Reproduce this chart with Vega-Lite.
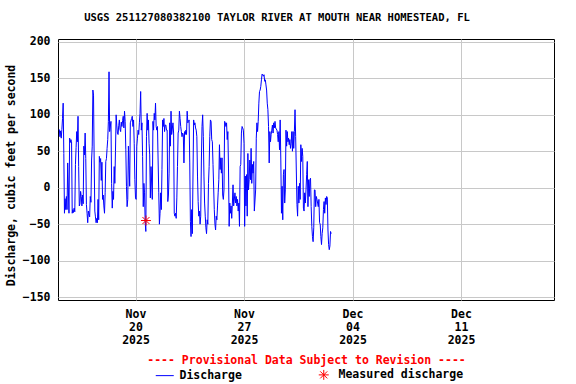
{
"$schema": "https://vega.github.io/schema/vega-lite/v6.json",
"width": 496, "height": 261,
"autosize": "none",
"padding": {"left": 58, "top": 39, "right": 22, "bottom": 84},
"background": "white",
"title": {"text": "USGS 251127080382100 TAYLOR RIVER AT MOUTH NEAR HOMESTEAD, FL", "font": "DejaVu Sans Mono", "fontSize": 10.5, "fontWeight": "bold", "anchor": "middle", "dx": -29, "offset": 12, "color": "black"},
"config": {"view": {"stroke": "black", "strokeWidth": 1}, "font": "DejaVu Sans Mono", "axis": {"labelOverlap": false}},
"encoding": {
"x": {"field": "t", "type": "temporal",
 "scale": {"domain": [{"year": 2025, "month": 11, "date": 15}, {"year": 2025, "month": 12, "date": 17}]},
 "axis": {"values": [{"year": 2025, "month": 11, "date": 20}, {"year": 2025, "month": 11, "date": 27}, {"year": 2025, "month": 12, "date": 4}, {"year": 2025, "month": 12, "date": 11}],
  "labelExpr": "[timeFormat(datum.value, '%b'), timeFormat(datum.value, '%d'), timeFormat(datum.value, '%Y')]",
  "labelLineHeight": 13, "labelFont": "DejaVu Sans Mono", "labelFontSize": 11.5, "labelFontWeight": "bold", "labelColor": "black",
  "labelPadding": 8, "ticks": false, "tickSize": 0, "domain": false, "grid": true, "gridColor": "#c8c8c8", "gridWidth": 1,
  "labelFlush": false, "labelOverlap": false,
  "title": "---- Provisional Data Subject to Revision ----", "titleColor": "#ff0000", "titleFont": "DejaVu Sans Mono", "titleFontSize": 11.5, "titleFontWeight": "bold",
  "titleY": 63, "titleBaseline": "alphabetic"}},
"y": {"field": "v", "type": "quantitative",
 "scale": {"domain": [-154, 204], "nice": false, "zero": false},
 "axis": {"values": [-150, -100, -50, 0, 50, 100, 150, 200], "labelFont": "DejaVu Sans Mono", "labelFontSize": 11.5, "labelFontWeight": "bold", "labelColor": "black",
  "labelPadding": 8, "ticks": false, "tickSize": 0, "domain": false, "grid": true, "gridColor": "#c8c8c8", "gridWidth": 1,
  "labelOverlap": false, "labelFlush": false, "labelBaseline": "middle",
  "title": "Discharge, cubic feet per second", "titleFont": "DejaVu Sans Mono", "titleFontSize": 11.5, "titleFontWeight": "bold", "titleColor": "black",
  "titleX": -47, "titleY": 136, "titleBaseline": "middle", "titleAngle": -90}}
},
"layer": [
{"data": {"values": [
{"t":"2025-11-15T02:00","v":80},{"t":"2025-11-15T03:00","v":70},{"t":"2025-11-15T04:00","v":78},{"t":"2025-11-15T05:00","v":68},{"t":"2025-11-15T06:00","v":80},{"t":"2025-11-15T07:00","v":95},{"t":"2025-11-15T08:00","v":116},{"t":"2025-11-15T09:00","v":47},{"t":"2025-11-15T10:00","v":-35},{"t":"2025-11-15T11:00","v":-15},{"t":"2025-11-15T12:00","v":-30},{"t":"2025-11-15T13:00","v":-12},{"t":"2025-11-15T14:00","v":-30},{"t":"2025-11-15T15:00","v":34},{"t":"2025-11-15T17:00","v":-35},{"t":"2025-11-15T18:00","v":68},{"t":"2025-11-15T19:00","v":62},{"t":"2025-11-15T20:00","v":66},{"t":"2025-11-15T21:00","v":63},{"t":"2025-11-15T22:00","v":-35},{"t":"2025-11-15T23:00","v":-30},
{"t":"2025-11-16T00:00","v":-34},{"t":"2025-11-16T01:00","v":-28},{"t":"2025-11-16T02:00","v":-33},{"t":"2025-11-16T03:00","v":32},{"t":"2025-11-16T04:00","v":55},{"t":"2025-11-16T05:00","v":77},{"t":"2025-11-16T06:00","v":63},{"t":"2025-11-16T07:00","v":98},{"t":"2025-11-16T08:00","v":29},{"t":"2025-11-16T09:00","v":-25},{"t":"2025-11-16T10:00","v":-22},{"t":"2025-11-16T11:00","v":-5},{"t":"2025-11-16T12:00","v":-12},{"t":"2025-11-16T13:00","v":-25},{"t":"2025-11-16T14:00","v":-10},{"t":"2025-11-16T15:00","v":-22},{"t":"2025-11-16T16:00","v":57},{"t":"2025-11-16T17:00","v":45},{"t":"2025-11-16T18:00","v":75},{"t":"2025-11-16T19:00","v":40},{"t":"2025-11-16T20:00","v":-23},{"t":"2025-11-16T21:00","v":-35},{"t":"2025-11-16T22:00","v":-48},{"t":"2025-11-16T23:00","v":-32},
{"t":"2025-11-17T01:00","v":-40},{"t":"2025-11-17T02:00","v":-12},{"t":"2025-11-17T03:00","v":-20},{"t":"2025-11-17T04:00","v":38},{"t":"2025-11-17T05:00","v":57},{"t":"2025-11-17T06:00","v":134},{"t":"2025-11-17T07:00","v":127},{"t":"2025-11-17T08:00","v":38},{"t":"2025-11-17T09:00","v":-32},{"t":"2025-11-17T10:00","v":-40},{"t":"2025-11-17T11:00","v":-48},{"t":"2025-11-17T12:00","v":-42},{"t":"2025-11-17T13:00","v":-48},{"t":"2025-11-17T14:00","v":-16},{"t":"2025-11-17T15:00","v":-44},{"t":"2025-11-17T16:00","v":43},{"t":"2025-11-17T17:00","v":35},{"t":"2025-11-17T18:00","v":40},{"t":"2025-11-17T19:00","v":10},{"t":"2025-11-17T20:00","v":35},{"t":"2025-11-17T21:00","v":-16},{"t":"2025-11-17T22:00","v":-10},{"t":"2025-11-17T23:00","v":-25},
{"t":"2025-11-18T00:00","v":-35},{"t":"2025-11-18T01:00","v":-7},{"t":"2025-11-18T02:00","v":36},{"t":"2025-11-18T03:00","v":40},{"t":"2025-11-18T04:00","v":54},{"t":"2025-11-18T05:00","v":66},{"t":"2025-11-18T06:00","v":91},{"t":"2025-11-18T07:00","v":159},{"t":"2025-11-18T08:00","v":77},{"t":"2025-11-18T10:00","v":91},{"t":"2025-11-18T11:00","v":6},{"t":"2025-11-18T12:00","v":-28},{"t":"2025-11-18T13:00","v":-5},{"t":"2025-11-18T14:00","v":-16},{"t":"2025-11-18T15:00","v":29},{"t":"2025-11-18T16:00","v":6},{"t":"2025-11-18T17:00","v":50},{"t":"2025-11-18T18:00","v":100},{"t":"2025-11-18T19:00","v":86},{"t":"2025-11-18T20:00","v":75},{"t":"2025-11-18T21:00","v":73},{"t":"2025-11-18T22:00","v":85},{"t":"2025-11-18T23:00","v":93},
{"t":"2025-11-19T00:00","v":80},{"t":"2025-11-19T01:00","v":77},{"t":"2025-11-19T02:00","v":90},{"t":"2025-11-19T03:00","v":84},{"t":"2025-11-19T04:00","v":92},{"t":"2025-11-19T05:00","v":98},{"t":"2025-11-19T06:00","v":82},{"t":"2025-11-19T07:00","v":105},{"t":"2025-11-19T08:00","v":91},{"t":"2025-11-19T09:00","v":52},{"t":"2025-11-19T10:00","v":2},{"t":"2025-11-19T11:00","v":-26},{"t":"2025-11-19T12:00","v":-16},{"t":"2025-11-19T13:00","v":57},{"t":"2025-11-19T14:00","v":30},{"t":"2025-11-19T15:00","v":2},{"t":"2025-11-19T16:00","v":89},{"t":"2025-11-19T18:00","v":95},{"t":"2025-11-19T19:00","v":98},{"t":"2025-11-19T20:00","v":84},{"t":"2025-11-19T21:00","v":93},{"t":"2025-11-19T22:00","v":61},{"t":"2025-11-19T23:00","v":11},
{"t":"2025-11-20T00:00","v":-14},{"t":"2025-11-20T01:00","v":-16},{"t":"2025-11-20T02:00","v":57},{"t":"2025-11-20T03:00","v":68},{"t":"2025-11-20T04:00","v":79},{"t":"2025-11-20T05:00","v":73},{"t":"2025-11-20T06:00","v":89},{"t":"2025-11-20T07:00","v":102},{"t":"2025-11-20T08:00","v":132},{"t":"2025-11-20T09:00","v":79},{"t":"2025-11-20T10:00","v":89},{"t":"2025-11-20T11:00","v":43},{"t":"2025-11-20T12:00","v":-26},{"t":"2025-11-20T13:00","v":6},{"t":"2025-11-20T14:00","v":-7},{"t":"2025-11-20T15:00","v":-48},{"t":"2025-11-20T16:00","v":-60},{"t":"2025-11-20T17:00","v":70},{"t":"2025-11-20T18:00","v":102},{"t":"2025-11-20T19:00","v":79},{"t":"2025-11-20T20:00","v":93},{"t":"2025-11-20T21:00","v":61},{"t":"2025-11-20T22:00","v":45},{"t":"2025-11-20T23:00","v":-14},
{"t":"2025-11-21T00:00","v":29},{"t":"2025-11-21T02:00","v":-16},{"t":"2025-11-21T03:00","v":91},{"t":"2025-11-21T04:00","v":79},{"t":"2025-11-21T05:00","v":102},{"t":"2025-11-21T06:00","v":93},{"t":"2025-11-21T07:00","v":116},{"t":"2025-11-21T08:00","v":84},{"t":"2025-11-21T09:00","v":79},{"t":"2025-11-21T10:00","v":84},{"t":"2025-11-21T11:00","v":38},{"t":"2025-11-21T12:00","v":-7},{"t":"2025-11-21T13:00","v":-50},{"t":"2025-11-21T14:00","v":-35},{"t":"2025-11-21T15:00","v":-7},{"t":"2025-11-21T16:00","v":-30},{"t":"2025-11-21T17:00","v":25},{"t":"2025-11-21T18:00","v":93},{"t":"2025-11-21T19:00","v":84},{"t":"2025-11-21T20:00","v":95},{"t":"2025-11-21T21:00","v":77},{"t":"2025-11-21T22:00","v":86},{"t":"2025-11-21T23:00","v":86},
{"t":"2025-11-22T00:00","v":79},{"t":"2025-11-22T01:00","v":79},{"t":"2025-11-22T02:00","v":-19},{"t":"2025-11-22T03:00","v":-10},{"t":"2025-11-22T04:00","v":20},{"t":"2025-11-22T05:00","v":89},{"t":"2025-11-22T06:00","v":57},{"t":"2025-11-22T07:00","v":105},{"t":"2025-11-22T08:00","v":73},{"t":"2025-11-22T10:00","v":89},{"t":"2025-11-22T11:00","v":75},{"t":"2025-11-22T12:00","v":-35},{"t":"2025-11-22T13:00","v":-39},{"t":"2025-11-22T14:00","v":-35},{"t":"2025-11-22T15:00","v":-42},{"t":"2025-11-22T16:00","v":-14},{"t":"2025-11-22T17:00","v":29},{"t":"2025-11-22T18:00","v":75},{"t":"2025-11-22T19:00","v":79},{"t":"2025-11-22T20:00","v":105},{"t":"2025-11-22T21:00","v":95},{"t":"2025-11-22T22:00","v":84},{"t":"2025-11-22T23:00","v":77},
{"t":"2025-11-23T00:00","v":70},{"t":"2025-11-23T01:00","v":75},{"t":"2025-11-23T02:00","v":73},{"t":"2025-11-23T03:00","v":34},{"t":"2025-11-23T04:00","v":77},{"t":"2025-11-23T05:00","v":73},{"t":"2025-11-23T06:00","v":79},{"t":"2025-11-23T07:00","v":73},{"t":"2025-11-23T08:00","v":105},{"t":"2025-11-23T09:00","v":89},{"t":"2025-11-23T10:00","v":91},{"t":"2025-11-23T11:00","v":93},{"t":"2025-11-23T12:00","v":34},{"t":"2025-11-23T13:00","v":-46},{"t":"2025-11-23T14:00","v":-67},{"t":"2025-11-23T15:00","v":-30},{"t":"2025-11-23T16:00","v":-63},{"t":"2025-11-23T18:00","v":93},{"t":"2025-11-23T19:00","v":86},{"t":"2025-11-23T20:00","v":89},{"t":"2025-11-23T21:00","v":82},{"t":"2025-11-23T22:00","v":79},{"t":"2025-11-23T23:00","v":70},
{"t":"2025-11-24T00:00","v":16},{"t":"2025-11-24T01:00","v":-19},{"t":"2025-11-24T02:00","v":-39},{"t":"2025-11-24T03:00","v":-32},{"t":"2025-11-24T04:00","v":-50},{"t":"2025-11-24T05:00","v":-39},{"t":"2025-11-24T06:00","v":38},{"t":"2025-11-24T07:00","v":84},{"t":"2025-11-24T08:00","v":100},{"t":"2025-11-24T09:00","v":70},{"t":"2025-11-24T10:00","v":16},{"t":"2025-11-24T11:00","v":-21},{"t":"2025-11-24T12:00","v":-39},{"t":"2025-11-24T13:00","v":-55},{"t":"2025-11-24T14:00","v":-63},{"t":"2025-11-24T15:00","v":-44},{"t":"2025-11-24T16:00","v":-50},{"t":"2025-11-24T17:00","v":6},{"t":"2025-11-24T18:00","v":29},{"t":"2025-11-24T19:00","v":70},{"t":"2025-11-24T20:00","v":93},{"t":"2025-11-24T21:00","v":91},{"t":"2025-11-24T22:00","v":66},{"t":"2025-11-24T23:00","v":63},
{"t":"2025-11-25T00:00","v":32},{"t":"2025-11-25T02:00","v":-30},{"t":"2025-11-25T03:00","v":-50},{"t":"2025-11-25T04:00","v":-58},{"t":"2025-11-25T05:00","v":-39},{"t":"2025-11-25T06:00","v":-44},{"t":"2025-11-25T07:00","v":-25},{"t":"2025-11-25T08:00","v":-7},{"t":"2025-11-25T09:00","v":11},{"t":"2025-11-25T10:00","v":59},{"t":"2025-11-25T11:00","v":25},{"t":"2025-11-25T12:00","v":41},{"t":"2025-11-25T13:00","v":20},{"t":"2025-11-25T14:00","v":41},{"t":"2025-11-25T15:00","v":-10},{"t":"2025-11-25T16:00","v":-16},{"t":"2025-11-25T17:00","v":-3},{"t":"2025-11-25T18:00","v":91},{"t":"2025-11-25T19:00","v":89},{"t":"2025-11-25T20:00","v":84},{"t":"2025-11-25T21:00","v":89},{"t":"2025-11-25T22:00","v":66},{"t":"2025-11-25T23:00","v":77},
{"t":"2025-11-26T00:00","v":27},{"t":"2025-11-26T01:00","v":-53},{"t":"2025-11-26T02:00","v":-21},{"t":"2025-11-26T03:00","v":-35},{"t":"2025-11-26T04:00","v":-25},{"t":"2025-11-26T05:00","v":-42},{"t":"2025-11-26T06:00","v":-21},{"t":"2025-11-26T07:00","v":4},{"t":"2025-11-26T08:00","v":-25},{"t":"2025-11-26T10:00","v":-7},{"t":"2025-11-26T11:00","v":-21},{"t":"2025-11-26T12:00","v":-12},{"t":"2025-11-26T13:00","v":-25},{"t":"2025-11-26T14:00","v":-16},{"t":"2025-11-26T15:00","v":-32},{"t":"2025-11-26T16:00","v":-21},{"t":"2025-11-26T17:00","v":-53},{"t":"2025-11-26T18:00","v":29},{"t":"2025-11-26T19:00","v":32},{"t":"2025-11-26T20:00","v":75},{"t":"2025-11-26T21:00","v":84},{"t":"2025-11-26T22:00","v":82},{"t":"2025-11-26T23:00","v":79},
{"t":"2025-11-27T00:00","v":61},{"t":"2025-11-27T01:00","v":-53},{"t":"2025-11-27T02:00","v":16},{"t":"2025-11-27T03:00","v":-25},{"t":"2025-11-27T04:00","v":18},{"t":"2025-11-27T05:00","v":-39},{"t":"2025-11-27T06:00","v":47},{"t":"2025-11-27T07:00","v":-3},{"t":"2025-11-27T08:00","v":11},{"t":"2025-11-27T09:00","v":38},{"t":"2025-11-27T10:00","v":11},{"t":"2025-11-27T11:00","v":54},{"t":"2025-11-27T12:00","v":6},{"t":"2025-11-27T13:00","v":32},{"t":"2025-11-27T14:00","v":20},{"t":"2025-11-27T15:00","v":36},{"t":"2025-11-27T16:00","v":-32},{"t":"2025-11-27T18:00","v":-3},{"t":"2025-11-27T19:00","v":68},{"t":"2025-11-27T20:00","v":89},{"t":"2025-11-27T21:00","v":77},{"t":"2025-11-27T22:00","v":91},{"t":"2025-11-27T23:00","v":116},
{"t":"2025-11-28T00:00","v":132},{"t":"2025-11-28T01:00","v":134},{"t":"2025-11-28T02:00","v":139},{"t":"2025-11-28T03:00","v":148},{"t":"2025-11-28T04:00","v":156},{"t":"2025-11-28T05:00","v":155},{"t":"2025-11-28T06:00","v":153},{"t":"2025-11-28T07:00","v":155},{"t":"2025-11-28T08:00","v":146},{"t":"2025-11-28T09:00","v":148},{"t":"2025-11-28T10:00","v":141},{"t":"2025-11-28T11:00","v":134},{"t":"2025-11-28T12:00","v":116},{"t":"2025-11-28T13:00","v":107},{"t":"2025-11-28T14:00","v":84},{"t":"2025-11-28T15:00","v":34},{"t":"2025-11-28T16:00","v":77},{"t":"2025-11-28T17:00","v":63},{"t":"2025-11-28T18:00","v":73},{"t":"2025-11-28T19:00","v":79},{"t":"2025-11-28T20:00","v":86},{"t":"2025-11-28T21:00","v":75},{"t":"2025-11-28T22:00","v":89},{"t":"2025-11-28T23:00","v":82},
{"t":"2025-11-29T00:00","v":91},{"t":"2025-11-29T01:00","v":82},{"t":"2025-11-29T03:00","v":79},{"t":"2025-11-29T04:00","v":73},{"t":"2025-11-29T05:00","v":63},{"t":"2025-11-29T06:00","v":77},{"t":"2025-11-29T07:00","v":52},{"t":"2025-11-29T08:00","v":93},{"t":"2025-11-29T09:00","v":38},{"t":"2025-11-29T10:00","v":-35},{"t":"2025-11-29T11:00","v":2},{"t":"2025-11-29T12:00","v":-44},{"t":"2025-11-29T13:00","v":18},{"t":"2025-11-29T14:00","v":25},{"t":"2025-11-29T15:00","v":-21},{"t":"2025-11-29T16:00","v":-3},{"t":"2025-11-29T17:00","v":79},{"t":"2025-11-29T18:00","v":57},{"t":"2025-11-29T19:00","v":77},{"t":"2025-11-29T20:00","v":63},{"t":"2025-11-29T21:00","v":68},{"t":"2025-11-29T22:00","v":59},{"t":"2025-11-29T23:00","v":66},
{"t":"2025-11-30T00:00","v":54},{"t":"2025-11-30T01:00","v":61},{"t":"2025-11-30T02:00","v":77},{"t":"2025-11-30T03:00","v":50},{"t":"2025-11-30T04:00","v":77},{"t":"2025-11-30T05:00","v":54},{"t":"2025-11-30T06:00","v":77},{"t":"2025-11-30T07:00","v":107},{"t":"2025-11-30T08:00","v":70},{"t":"2025-11-30T10:00","v":-23},{"t":"2025-11-30T11:00","v":-39},{"t":"2025-11-30T12:00","v":2},{"t":"2025-11-30T13:00","v":-21},{"t":"2025-11-30T14:00","v":6},{"t":"2025-11-30T15:00","v":-16},{"t":"2025-11-30T16:00","v":59},{"t":"2025-11-30T17:00","v":36},{"t":"2025-11-30T18:00","v":54},{"t":"2025-11-30T19:00","v":43},{"t":"2025-11-30T20:00","v":-28},{"t":"2025-11-30T21:00","v":-32},{"t":"2025-11-30T22:00","v":-7},{"t":"2025-11-30T23:00","v":-21},
{"t":"2025-12-01T00:00","v":-3},{"t":"2025-12-01T01:00","v":18},{"t":"2025-12-01T02:00","v":36},{"t":"2025-12-01T03:00","v":-26},{"t":"2025-12-01T04:00","v":11},{"t":"2025-12-01T05:00","v":-12},{"t":"2025-12-01T06:00","v":11},{"t":"2025-12-01T07:00","v":13},{"t":"2025-12-01T08:00","v":-26},{"t":"2025-12-01T09:00","v":-53},{"t":"2025-12-01T10:00","v":-67},{"t":"2025-12-01T11:00","v":-74},{"t":"2025-12-01T12:00","v":-55},{"t":"2025-12-01T13:00","v":-3},{"t":"2025-12-01T14:00","v":-3},{"t":"2025-12-01T15:00","v":-26},{"t":"2025-12-01T16:00","v":-12},{"t":"2025-12-01T17:00","v":-16},{"t":"2025-12-01T19:00","v":-26},{"t":"2025-12-01T20:00","v":-16},{"t":"2025-12-01T21:00","v":-48},{"t":"2025-12-01T22:00","v":-50},{"t":"2025-12-01T23:00","v":-67},
{"t":"2025-12-02T00:00","v":-78},{"t":"2025-12-02T01:00","v":-63},{"t":"2025-12-02T02:00","v":-55},{"t":"2025-12-02T03:00","v":-30},{"t":"2025-12-02T04:00","v":-19},{"t":"2025-12-02T05:00","v":-35},{"t":"2025-12-02T06:00","v":-14},{"t":"2025-12-02T07:00","v":-23},{"t":"2025-12-02T08:00","v":-12},{"t":"2025-12-02T09:00","v":-14},{"t":"2025-12-02T10:00","v":-58},{"t":"2025-12-02T11:00","v":-78},{"t":"2025-12-02T12:00","v":-85},{"t":"2025-12-02T13:00","v":-80},{"t":"2025-12-02T14:00","v":-60},{"t":"2025-12-02T15:00","v":-63}
]},
"mark": {"type": "line", "strokeWidth": 1, "strokeJoin": "miter"},
"encoding": {
"color": {"datum": "Discharge", "type": "nominal",
 "scale": {"domain": ["Discharge", "Measured discharge"], "range": ["#0000ff", "#ff0000"]},
 "legend": {"orient": "none", "legendX": 101, "legendY": 330, "direction": "horizontal", "title": null,
  "labelFont": "DejaVu Sans Mono", "labelFontSize": 11.5, "labelFontWeight": "bold", "labelColor": "black",
  "symbolSize": 324, "labelOffset": 9, "columnPadding": 74, "symbolType": "stroke",
  "encode": {"symbols": {"update": {
   "shape": {"signal": "datum.value === 'Discharge' ? 'stroke' : 'M-1,0L1,0M0,-1L0,1M-0.7,-0.7L0.7,0.7M-0.7,0.7L0.7,-0.7'"},
   "size": {"signal": "datum.value === 'Discharge' ? 324 : 100"},
   "stroke": {"signal": "datum.value === 'Discharge' ? '#0000ff' : '#ff0000'"},
   "strokeWidth": {"value": 1}, "fill": {"value": "transparent"}}}}}}
}},
{"data": {"values": [{"t": "2025-11-20T16:12", "v": -45}]},
"mark": {"type": "point", "shape": "M-1,0L1,0M0,-1L0,1M-0.7,-0.7L0.7,0.7M-0.7,0.7L0.7,-0.7", "size": 100, "strokeWidth": 1, "filled": false, "opacity": 1},
"encoding": {
"color": {"datum": "Measured discharge", "type": "nominal"}
}}
]
}
